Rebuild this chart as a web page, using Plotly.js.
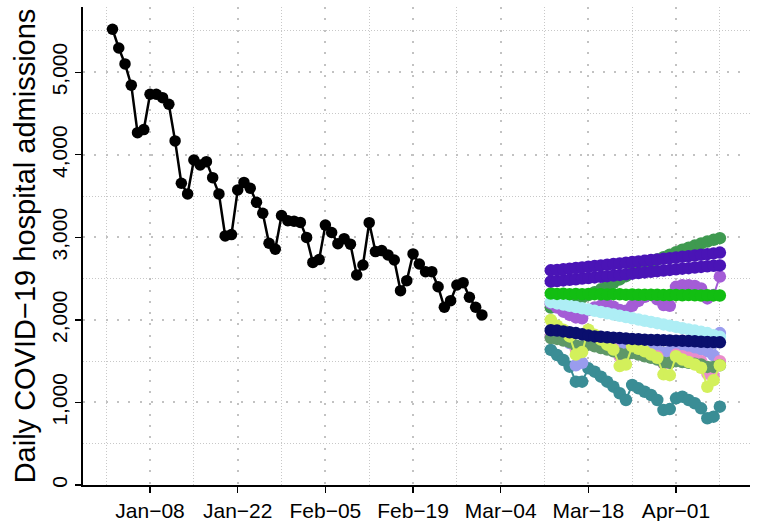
<!DOCTYPE html>
<html>
<head>
<meta charset="utf-8">
<script src="https://cdn.plot.ly/plotly-3.0.1.min.js"></script>
<style>html,body{margin:0;padding:0;background:#fff;}#chart{width:762px;height:521px;}</style>
</head>
<body>
<div id="chart"></div>
<script>
// ---------- data ----------
const observedStart = '2024-01-02';
const observed = [5521,5294,5101,4843,4268,4305,4733,4733,4692,4612,4168,3655,3526,3937,3877,3917,3723,3526,3017,3033,
  3574,3665,3595,3425,3292,2928,2857,3265,3201,3196,3181,2999,2696,2730,3148,3059,2923,2984,2917,2544,
  2665,3178,2827,2839,2787,2726,2354,2475,2799,2677,2584,2584,2402,2153,2233,2423,2451,2274,2153,2060];

const forecastStart = '2024-03-12';
const darkGreen  = [2150,2170,2195,2220,2245,2270,2300,2335,2370,2410,2450,2490,2530,2570,2610,2650,2690,2730,2760,2790,2820,2850,2875,2900,2925,2950,2970,2990];
const teal       = [1636,1575,1514,1433,1252,1252,1413,1373,1312,1252,1191,1111,1030,1212,1171,1130,1090,1030,909,920,1050,1070,1030,990,929,808,828,949];
const periwinkle = [1800,1780,1760,1720,1450,1480,1760,1740,1720,1700,1690,1680,1670,1690,1680,1670,1650,1630,1600,1620,1700,1690,1680,1660,1640,1620,1570,1840];
const pink       = [1800,1790,1770,1740,1640,1660,1760,1730,1710,1680,1650,1560,1570,1660,1630,1600,1580,1560,1470,1480,1580,1560,1540,1520,1500,1350,1320,1500];
const grayGreen  = [1780,1770,1750,1730,1690,1680,1700,1680,1660,1640,1620,1590,1580,1600,1580,1560,1540,1520,1480,1480,1500,1490,1480,1470,1460,1430,1430,1450];
const yellowGreen= [2000,1930,1880,1800,1580,1610,1880,1820,1760,1700,1640,1440,1460,1680,1650,1620,1580,1540,1340,1330,1560,1520,1490,1460,1420,1190,1270,1450];
const medPurple  = [2200,2150,2100,2060,2030,2020,2120,2150,2170,2190,2160,2120,2110,2170,2230,2280,2300,2250,2180,2170,2400,2420,2420,2410,2380,2260,2300,2525];
const lightCyan  = [2215,2200,2185,2170,2155,2140,2125,2110,2095,2080,2065,2050,2035,2020,2005,1990,1975,1960,1945,1930,1915,1900,1885,1870,1855,1840,1815,1795];
const navy       = [1875,1870,1860,1850,1840,1825,1810,1800,1795,1790,1785,1780,1775,1770,1765,1760,1757,1755,1752,1750,1748,1746,1744,1740,1735,1732,1730,1728];
const brightGreen= [2320,2315,2318,2312,2315,2310,2314,2312,2310,2308,2312,2310,2306,2308,2305,2303,2306,2304,2300,2302,2300,2298,2300,2297,2295,2298,2296,2295];
const purpleLow  = [2465,2470,2478,2485,2492,2500,2507,2514,2522,2530,2537,2545,2552,2560,2567,2575,2582,2590,2597,2605,2612,2620,2627,2635,2642,2650,2655,2660];
const purpleHigh = [2600,2605,2612,2620,2628,2636,2644,2652,2660,2668,2676,2684,2692,2700,2708,2716,2724,2732,2740,2748,2756,2764,2772,2780,2788,2796,2805,2815];

const xTickVals = ['2024-01-08','2024-01-22','2024-02-05','2024-02-19','2024-03-04','2024-03-18','2024-04-01'];
const xTickText = ['Jan\u221208','Jan\u221222','Feb\u221205','Feb\u221219','Mar\u221204','Mar\u221218','Apr\u221201'];
const xMinorVals = ['2024-01-01','2024-01-15','2024-01-29','2024-02-12','2024-02-26','2024-03-11','2024-03-25','2024-04-08'];
const yTickVals = [0,1000,2000,3000,4000,5000];
const yMinorVals = [500,1500,2500,3500,4500,5500];
const yTitle = 'Daily COVID\u221219 hospital admissions';

// ---------- helpers ----------
function dayList(start, n){
  const out = [];
  const d0 = new Date(start + 'T00:00:00Z');
  for (let i = 0; i < n; i++){
    const d = new Date(d0.getTime() + i*86400000);
    out.push(d.toISOString().slice(0,10));
  }
  return out;
}
const obsDates = dayList(observedStart, observed.length);
const fcDates = dayList(forecastStart, darkGreen.length);

const forecasts = [
  {y: darkGreen,   c: '#3F9A50'},
  {y: teal,        c: '#3A8D95'},
  {y: periwinkle,  c: '#9A9CEE'},
  {y: pink,        c: '#EA8CCB'},
  {y: grayGreen,   c: '#5F9868'},
  {y: yellowGreen, c: '#D3F05B'},
  {y: medPurple,   c: '#A45CD6'},
  {y: lightCyan,   c: '#AEEEF5'},
  {y: navy,        c: '#0A0F6E'},
  {y: brightGreen, c: '#12BE12'},
  {y: purpleLow,   c: '#4A14B6'},
  {y: purpleHigh,  c: '#4A14B6'}
];

const traces = forecasts.map(f => ({
  type: 'scatter', mode: 'lines+markers', x: fcDates, y: f.y,
  line: {color: f.c, width: 2}, marker: {color: f.c, size: 12.5, line: {width: 0}},
  hoverinfo: 'skip'
}));
traces.unshift({
  type: 'scatter', mode: 'lines+markers', x: obsDates, y: observed,
  line: {color: '#000000', width: 2.5}, marker: {color: '#000000', size: 11.5, line: {width: 0}},
  hoverinfo: 'skip'
});

const tickFont = {family: 'Liberation Sans, Arial, sans-serif', size: 21, color: '#000000'};
const layout = {
  width: 762, height: 521,
  margin: {l: 83, r: 12, t: 7, b: 36},
  paper_bgcolor: '#ffffff', plot_bgcolor: '#ffffff',
  showlegend: false, hovermode: false,
  font: {family: 'Liberation Sans, Arial, sans-serif', color: '#000000'},
  xaxis: {
    type: 'date', range: ['2023-12-28 07:00', '2024-04-12 19:30'],
    tickmode: 'array', tickvals: xTickVals, ticktext: xTickText,
    ticks: 'outside', ticklen: 6, tickwidth: 1.3, tickcolor: '#000000',
    showline: true, linecolor: '#000000', linewidth: 1.6,
    showgrid: true, gridcolor: '#c2c2c2', gridwidth: 2, griddash: '2px,9.3px',
    minor: {tickmode: 'array', tickvals: xMinorVals, showgrid: true, gridcolor: '#c8c8c8', gridwidth: 1, griddash: '1px,2px', ticks: ''},
    zeroline: false, tickfont: tickFont, fixedrange: true
  },
  yaxis: {
    range: [0, 5790],
    tickmode: 'array', tickvals: yTickVals, tickformat: ',', tickangle: -90,
    ticks: 'outside', ticklen: 6, tickwidth: 1.3, tickcolor: '#000000',
    showline: true, linecolor: '#000000', linewidth: 1.6,
    showgrid: true, gridcolor: '#c2c2c2', gridwidth: 2, griddash: '2px,9.3px',
    minor: {tickmode: 'array', tickvals: yMinorVals, showgrid: true, gridcolor: '#c8c8c8', gridwidth: 1, griddash: '1px,2px', ticks: ''},
    zeroline: false, tickfont: tickFont, fixedrange: true,
    title: {text: yTitle, font: {family: 'Liberation Sans, Arial, sans-serif', size: 29, color: '#000000'}, standoff: 4}
  }
};

Plotly.newPlot('chart', traces, layout, {staticPlot: true, displayModeBar: false});
</script>
</body>
</html>
